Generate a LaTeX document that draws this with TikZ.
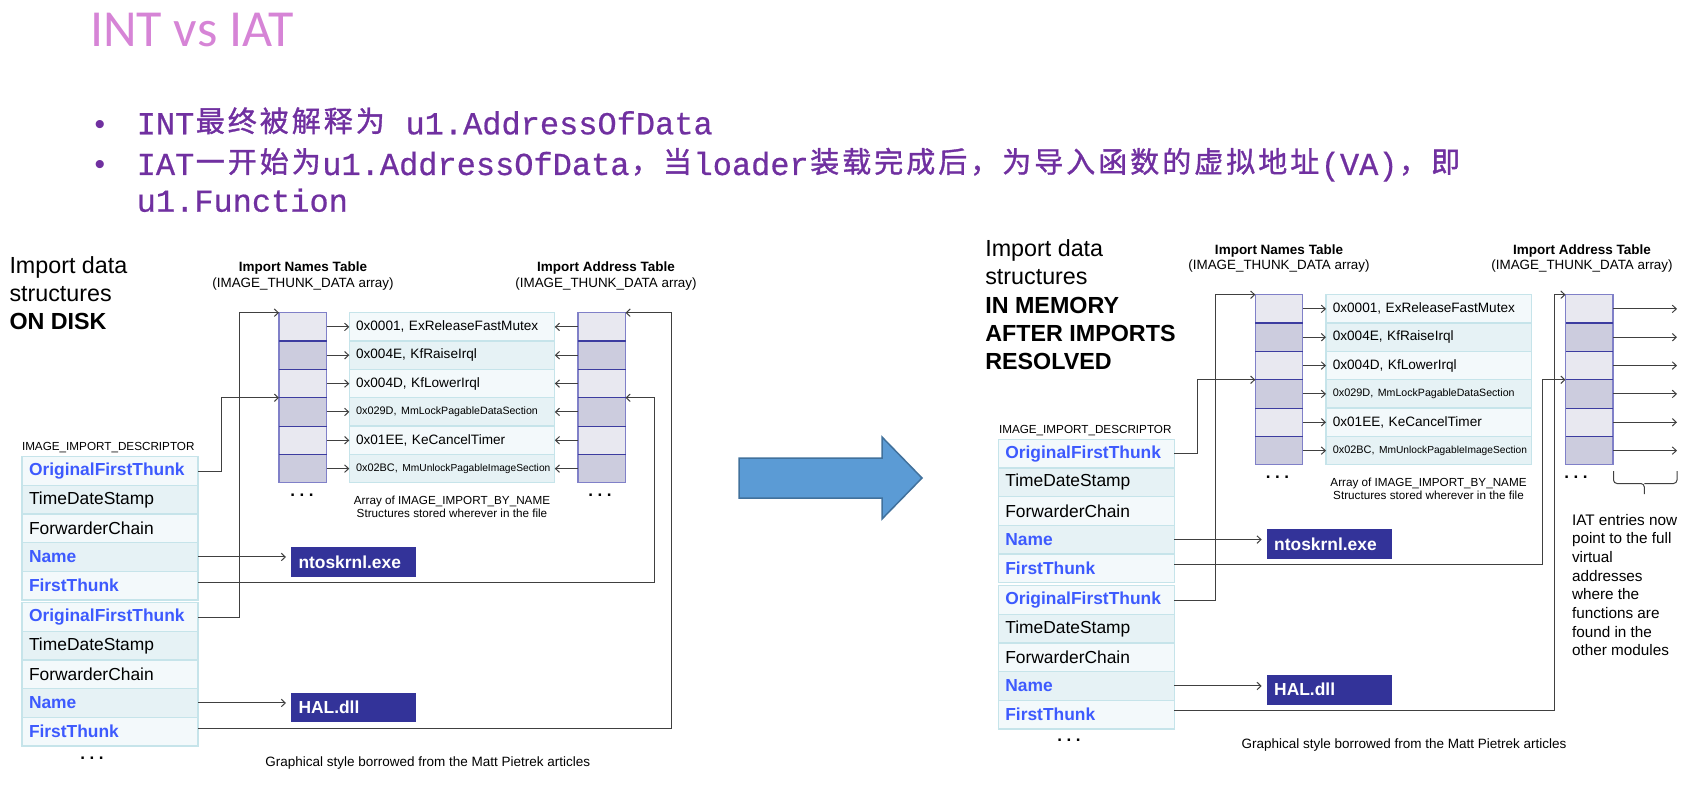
\documentclass[tikz,border=0pt]{standalone}
\usepackage{fontspec}
\setmainfont{Liberation Sans}
\newfontfamily\monofont[FakeBold=0.6]{Liberation Mono}
\newfontfamily\cjkfont[FakeBold=1.2]{Noto Sans CJK SC}
\newfontfamily\titlefont{Carlito}
\usetikzlibrary{arrows.meta}
\newcommand\myfs[1]{\fontsize{#1}{#1}\selectfont}
\newcommand\zh[1]{\makebox[32pt][c]{\raisebox{2.5pt}{\cjkfont\myfs{29}#1}}}
\newcommand\nametext[1]{\ifcase#1\or
0x0001, ExReleaseFastMutex\or
0x004E, KfRaiseIrql\or
0x004D, KfLowerIrql\or
\raisebox{1.5pt}{\myfs{10.9}0x029D, \myfs{10.6}MmLockPagableDataSection}\or
0x01EE, KeCancelTimer\or
\raisebox{1.5pt}{\myfs{10.9}0x02BC, \myfs{10.2}MmUnlockPagableImageSection}\fi}
\definecolor{titlecol}{RGB}{214,132,214}
\definecolor{bulcol}{RGB}{112,48,160}
\definecolor{descA}{RGB}{243,249,251}
\definecolor{descB}{RGB}{230,242,245}
\definecolor{descline}{RGB}{198,228,234}
\definecolor{thunkA}{RGB}{232,232,240}
\definecolor{thunkB}{RGB}{204,204,222}
\definecolor{thunkedge}{RGB}{128,128,200}
\definecolor{thunkline}{RGB}{60,60,160}
\definecolor{fieldblue}{RGB}{61,90,254}
\definecolor{dllblue}{RGB}{51,51,153}
\definecolor{conncol}{RGB}{64,64,64}
\definecolor{arrowfill}{RGB}{91,155,213}
\definecolor{arrowline}{RGB}{65,113,156}
\newcommand\thunkcols[5]{%
  \foreach \i in {1,...,6}{%
    \pgfmathsetmacro\yy{#3+28.35*(\i-1)}%
    \ifodd\i\relax \def\ff{thunkA}\def\gg{descA}\else \def\ff{thunkB}\def\gg{descB}\fi
    \node[thunkrow, fill=\ff] (#1int\i) at (#2,\yy) {};
    \node[thunkrow, fill=\ff] (#1iat\i) at (#5,\yy) {};
    \node[namerow, fill=\gg] (#1nam\i) at (#4,\yy) {\nametext{\i}};
  }%
  \foreach \i in {1,...,5}{%
    \draw[thunkdiv] (#1int\i.south west) -- (#1int\i.south east);
    \draw[thunkdiv] (#1iat\i.south west) -- (#1iat\i.south east);
  }%
}
\newcommand\descr[3]{%
  \node[descrow, fill=descA, fieldb] (#1-1) at (#2,#3) {OriginalFirstThunk};
  \node[descrow, fill=descB] (#1-2) at (#2,{#3+28.65}) {TimeDateStamp};
  \node[descrow, fill=descA] (#1-3) at (#2,{#3+2*28.65}) {ForwarderChain};
  \node[descrow, fill=descB, fieldb] (#1-4) at (#2,{#3+3*28.65}) {Name};
  \node[descrow, fill=descA, fieldb] (#1-5) at (#2,{#3+4*28.65}) {FirstThunk};
}
\begin{document}
\begin{tikzpicture}[x=1pt,y=-1pt,
  lbl/.style={inner sep=0pt, outer sep=0pt},
  descrow/.style={draw=descline, line width=1.3pt, minimum height=28.65pt, text width=162pt, inner xsep=7pt, inner ysep=0pt, outer sep=0pt, align=left, anchor=north west, font=\myfs{17.4}},
  fieldb/.style={text=fieldblue, font=\myfs{17.4}\bfseries},
  thunkrow/.style={draw=thunkedge, line width=1.2pt, minimum width=47.5pt, minimum height=28.35pt, inner sep=0pt, outer sep=0pt, anchor=north west},
  thunkdiv/.style={draw=thunkline, line width=1.2pt},
  namerow/.style={draw=descline, line width=1.3pt, minimum height=28.35pt, text width=192pt, inner xsep=6.75pt, inner ysep=0pt, outer sep=0pt, align=left, anchor=north west, font=\myfs{13.6}},
  dllbox/.style={fill=dllblue, text=white, font=\myfs{17.4}\bfseries, text width=110pt, inner xsep=7.5pt, inner ysep=0pt, minimum height=29.5pt, outer sep=0pt, align=left, anchor=north west},
  arr/.style={draw=conncol, line width=1pt, -{Straight Barb[length=4pt,width=7.5pt]}},
  conn/.style={draw=conncol, line width=1pt},
  bigtext/.style={lbl, anchor=base west, font=\myfs{23.3}},
  bigbold/.style={lbl, anchor=base west, font=\myfs{23.3}\bfseries},
  hdrbold/.style={lbl, anchor=base, font=\myfs{13.5}\bfseries},
  hdr/.style={lbl, anchor=base, font=\myfs{13.4}},
  small/.style={lbl, font=\myfs{11.7}},
  caption/.style={lbl, anchor=base west, font=\myfs{13.5}},
  note/.style={lbl, anchor=base west, font=\myfs{15.3}},
  dots/.style={lbl, anchor=base, font=\myfs{17}\bfseries},
  bulline/.style={lbl, anchor=base west, text=bulcol, font=\monofont\myfs{32}},
  bullet/.style={lbl, anchor=base, text=bulcol, font=\myfs{30}},
]
\useasboundingbox (0,0) rectangle (1695,789);
% ---------- title and bullets
\node[lbl, anchor=base west, text=titlecol, font=\titlefont\myfs{52}] (title) at (90,46.7) {INT vs IAT};
\node[bullet] (bul1) at (100,134.3) {•};
\node[bulline] (line1) at (136.7,134.3) {INT\zh{最}\zh{终}\zh{被}\zh{解}\zh{释}\zh{为}\ u1.AddressOfData};
\node[bullet] (bul2) at (100,175) {•};
\node[bulline] (line2) at (136.7,175) {IAT\zh{一}\zh{开}\zh{始}\zh{为}u1.AddressOfData\zh{，}\zh{当}loader\zh{装}\zh{载}\zh{完}\zh{成}\zh{后}\zh{，}\zh{为}\zh{导}\zh{入}\zh{函}\zh{数}\zh{的}\zh{虚}\zh{拟}\zh{地}\zh{址}(VA)\zh{，}\zh{即}};
\node[bulline] (line3) at (136.7,211.7) {u1.Function};
% ---------- big arrow
\draw[fill=arrowfill, draw=arrowline, line width=1.5pt] (739,458) -- (882,458) -- (882,437) -- (922,478) -- (882,519) -- (882,498) -- (739,498) -- cycle;
% ================= LEFT: ON DISK
\node[bigtext] (L-h1) at (9.5,273.3) {Import data};
\node[bigtext] (L-h2) at (9.5,301.6) {structures};
\node[bigbold] (L-h3) at (9.5,329.9) {ON DISK};
\node[hdrbold] (L-inth1) at (303,271) {Import Names Table};
\node[hdr] (L-inth2) at (303,287.3) {(IMAGE\_THUNK\_DATA array)};
\node[hdrbold] (L-iath1) at (606,271) {Import Address Table};
\node[hdr] (L-iath2) at (606,287.3) {(IMAGE\_THUNK\_DATA array)};
\thunkcols{L-}{279}{312.7}{349.3}{578}
\node[small, anchor=base west] (L-dlbl) at (22,450.7) {IMAGE\_IMPORT\_DESCRIPTOR};
\descr{L-d1}{22}{456.7}
\descr{L-d2}{22}{602.7}
\node[small, anchor=base] (L-arr1) at (452,504.5) {Array of IMAGE\_IMPORT\_BY\_NAME};
\node[small, anchor=base] (L-arr2) at (452,517.3) {Structures stored wherever in the file};
\node[dllbox] (L-ntos) at (291,547.3) {ntoskrnl.exe};
\node[dllbox] (L-hal) at (291,692.7) {HAL.dll};
\node[dots] (L-dint) at (302,496.2) {.\hspace{4.5pt}.\hspace{4.5pt}.};
\node[dots] (L-diat) at (600,496.2) {.\hspace{4.5pt}.\hspace{4.5pt}.};
\node[dots] (L-ddesc) at (92,759.5) {.\hspace{4.5pt}.\hspace{4.5pt}.};
\node[caption] (L-cap) at (265.4,766.5) {Graphical style borrowed from the Matt Pietrek articles};
\foreach \i in {1,...,6}{
  \draw[arr] (L-int\i.east) -- (L-nam\i.west);
  \draw[arr] (L-iat\i.west) -- (L-nam\i.east);
}
\draw[arr] (L-d1-1.east) -- ++(23,0) |- (L-int4.north west);
\draw[arr] (L-d2-1.east) -- ++(41,0) |- (L-int1.north west);
\draw[arr, shorten >=5pt] (L-d1-4.east) -- (L-d1-4.east -| L-ntos.west);
\draw[arr] ([yshift=3pt]L-d1-5.east) -- ++(456,0) |- (L-iat4.north east);
\draw[arr, shorten >=5pt] (L-d2-4.east) -- (L-d2-4.east -| L-hal.west);
\draw[arr] ([yshift=3pt]L-d2-5.east) -- ++(473.7,0) |- (L-iat1.north east);
% ================= RIGHT: IN MEMORY
\node[bigtext] (R-h1) at (985.3,256.7) {Import data};
\node[bigtext] (R-h2) at (985.3,284.9) {structures};
\node[bigbold] (R-h3) at (985.3,313.1) {IN MEMORY};
\node[bigbold] (R-h4) at (985.3,341.3) {AFTER IMPORTS};
\node[bigbold] (R-h5) at (985.3,369.5) {RESOLVED};
\node[hdrbold] (R-inth1) at (1279,254.3) {Import Names Table};
\node[hdr] (R-inth2) at (1279,269.3) {(IMAGE\_THUNK\_DATA array)};
\node[hdrbold] (R-iath1) at (1582,254.3) {Import Address Table};
\node[hdr] (R-iath2) at (1582,269.3) {(IMAGE\_THUNK\_DATA array)};
\thunkcols{R-}{1255.3}{294.7}{1326}{1565.5}
\node[small, anchor=base west] (R-dlbl) at (999,433.3) {IMAGE\_IMPORT\_DESCRIPTOR};
\descr{R-d1}{998.3}{439.3}
\descr{R-d2}{998.3}{585.7}
\node[small, anchor=base] (R-arr1) at (1428.5,486.7) {Array of IMAGE\_IMPORT\_BY\_NAME};
\node[small, anchor=base] (R-arr2) at (1428.5,499.3) {Structures stored wherever in the file};
\node[dllbox] (R-ntos) at (1266.7,529.3) {ntoskrnl.exe};
\node[dllbox] (R-hal) at (1266.7,675) {HAL.dll};
\node[dots] (R-dint) at (1277.5,478.5) {.\hspace{4.5pt}.\hspace{4.5pt}.};
\node[dots] (R-diat) at (1576,478.5) {.\hspace{4.5pt}.\hspace{4.5pt}.};
\node[dots] (R-ddesc) at (1069,741.5) {.\hspace{4.5pt}.\hspace{4.5pt}.};
\node[caption] (R-cap) at (1241.5,748.3) {Graphical style borrowed from the Matt Pietrek articles};
\node[note] (R-n1) at (1572,525) {IAT entries now};
\node[note] (R-n2) at (1572,543.7) {point to the full};
\node[note] (R-n3) at (1572,562.4) {virtual};
\node[note] (R-n4) at (1572,581.1) {addresses};
\node[note] (R-n5) at (1572,599.8) {where the};
\node[note] (R-n6) at (1572,618.5) {functions are};
\node[note] (R-n7) at (1572,637.2) {found in the};
\node[note] (R-n8) at (1572,655.9) {other modules};
\foreach \i in {1,...,6}{
  \draw[arr] (R-int\i.east) -- (R-nam\i.west);
  \coordinate (R-out\i) at ([xshift=64pt]R-iat\i.east);
  \draw[arr] (R-iat\i.east) -- (R-out\i);
}
\draw[arr] (R-d1-1.east) -- ++(23.3,0) |- (R-int4.north west);
\draw[arr] (R-d2-1.east) -- ++(40.7,0) |- (R-int1.north west);
\draw[arr, shorten >=5pt] (R-d1-4.east) -- (R-d1-4.east -| R-ntos.west);
\draw[arr] ([yshift=4pt]R-d1-5.east) -- ++(368.3,0) |- (R-iat4.north west);
\draw[arr, shorten >=5pt] (R-d2-4.east) -- (R-d2-4.east -| R-hal.west);
\draw[arr] ([yshift=4pt]R-d2-5.east) -- ++(380.3,0) |- (R-iat1.north west);
% brace under the IAT arrows
\draw[conn, rounded corners=3.5pt] (1613.5,471) -- (1613.5,483.5) -- (1644.3,483.5) -- (1644.3,494);
\draw[conn, rounded corners=3.5pt] (1677,471) -- (1677,483.5) -- (1644.3,483.5);
\end{tikzpicture}
\end{document}
